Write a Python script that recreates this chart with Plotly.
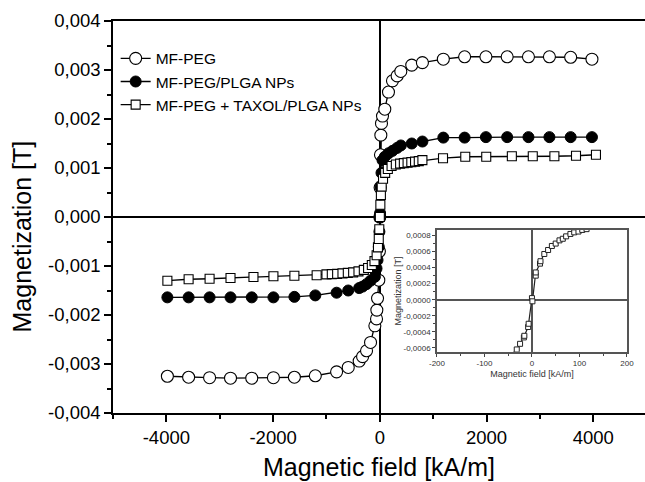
import plotly.graph_objects as go

# ---------------- data (field in kA/m, magnetization in T) ----------------
peg_h = [-3981, -3583, -3190, -2798, -2400, -1994, -1601, -1209, -810, -592, -387, -323,
         -249, -174, -93, -62, -56, -43, -19, -8, 0, 5, 12, 19, 31, 50, 93, 162, 237, 324,
         393, 598, 798, 1190, 1589, 1988, 2386, 2785, 3178, 3576, 3975]
peg_m = [-3.25e-3, -3.27e-3, -3.28e-3, -3.29e-3, -3.29e-3, -3.28e-3, -3.27e-3, -3.24e-3,
         -3.16e-3, -3.07e-3, -2.94e-3, -2.85e-3, -2.73e-3, -2.56e-3, -2.22e-3, -2.08e-3,
         -1.90e-3, -1.66e-3, -1.29e-3, -0.70e-3, 0.0, 0.60e-3, 1.27e-3, 1.67e-3, 1.91e-3,
         2.06e-3, 2.20e-3, 2.55e-3, 2.78e-3, 2.88e-3, 2.97e-3, 3.10e-3, 3.15e-3, 3.22e-3,
         3.27e-3, 3.27e-3, 3.27e-3, 3.27e-3, 3.27e-3, 3.26e-3, 3.22e-3]

plga_h = [-3981, -3583, -3190, -2798, -2400, -1994, -1601, -1209, -810, -592, -387, -323,
          -249, -174, -93, -62, -43, -19, -8, 0, 5, 12, 31, 50, 93, 162, 237, 324, 393, 598,
          798, 1190, 1589, 1988, 2386, 2785, 3178, 3576, 3975]
plga_m = [-1.64e-3, -1.64e-3, -1.64e-3, -1.64e-3, -1.64e-3, -1.64e-3, -1.63e-3, -1.60e-3,
          -1.545e-3, -1.50e-3, -1.45e-3, -1.42e-3, -1.37e-3, -1.30e-3, -1.22e-3, -1.05e-3,
          -0.88e-3, -0.61e-3, -0.30e-3, 0.0, 0.08e-3, 0.61e-3, 0.90e-3, 1.16e-3, 1.23e-3,
          1.30e-3, 1.35e-3, 1.41e-3, 1.46e-3, 1.50e-3, 1.54e-3, 1.62e-3, 1.62e-3, 1.63e-3,
          1.63e-3, 1.63e-3, 1.63e-3, 1.63e-3, 1.63e-3]

taxol_h = [-3981, -3583, -3190, -2798, -2368, -1994, -1601, -1184, -1000, -900, -800, -700,
           -600, -500, -400, -300, -220, -150, -100, -60, -35, -20, -10, 0, 10, 20, 35, 60,
           100, 150, 220, 300, 380, 450, 520, 590, 660, 730, 798, 1184, 1601, 1994, 2474,
           2866, 3271, 3676, 4050]
taxol_m = [-1.30e-3, -1.27e-3, -1.26e-3, -1.245e-3, -1.225e-3, -1.21e-3, -1.20e-3, -1.19e-3,
           -1.17e-3, -1.165e-3, -1.16e-3, -1.15e-3, -1.14e-3, -1.13e-3, -1.11e-3, -1.08e-3,
           -1.04e-3, -0.98e-3, -0.90e-3, -0.78e-3, -0.62e-3, -0.45e-3, -0.25e-3, 0.0,
           0.25e-3, 0.45e-3, 0.62e-3, 0.78e-3, 0.90e-3, 0.98e-3, 1.04e-3, 1.07e-3, 1.09e-3,
           1.10e-3, 1.11e-3, 1.12e-3, 1.13e-3, 1.14e-3, 1.16e-3, 1.20e-3, 1.23e-3, 1.23e-3,
           1.24e-3, 1.24e-3, 1.24e-3, 1.25e-3, 1.27e-3]

# inset: MF-PEG + TAXOL/PLGA NPs at low field
inset_h = [-45, -32, -25, -17, -16, -8, -7, 0, 1, 8, 8, 17, 18, 26, 34, 42, 50, 58, 65,
           72, 81, 89, 98, 106, 115]
inset_m = [-6.9e-4, -6.2e-4, -5.5e-4, -4.7e-4, -4.5e-4, -3.4e-4, -3.0e-4, 0.2e-4, -0.2e-4,
           3.0e-4, 3.4e-4, 4.5e-4, 4.8e-4, 5.7e-4, 6.2e-4, 6.7e-4, 7.0e-4, 7.4e-4, 7.6e-4,
           7.9e-4, 8.2e-4, 8.4e-4, 8.5e-4, 8.7e-4, 8.8e-4]

series_names = ["MF-PEG", "MF-PEG/PLGA NPs", "MF-PEG + TAXOL/PLGA NPs"]

x_tickvals = [-4000, -2000, 0, 2000, 4000]
x_ticktext = ["-4000", "-2000", "0", "2000", "4000"]
y_tickvals = [-0.004, -0.003, -0.002, -0.001, 0.0, 0.001, 0.002, 0.003, 0.004]
y_ticktext = ["-0,004", "-0,003", "-0,002", "-0,001", "0,000", "0,001", "0,002", "0,003", "0,004"]

ix_tickvals = [-200, -100, 0, 100, 200]
ix_ticktext = ["-200", "-100", "0", "100", "200"]
iy_tickvals = [-0.0006, -0.0004, -0.0002, 0.0, 0.0002, 0.0004, 0.0006, 0.0008]
iy_ticktext = ["-0,0006", "-0,0004", "-0,0002", "0,0000", "0,0002", "0,0004", "0,0006", "0,0008"]

FONT = "Liberation Sans, Arial, Helvetica, sans-serif"

fig = go.Figure()

fig.add_trace(go.Scatter(
    x=peg_h, y=peg_m, name=series_names[0], mode="lines+markers",
    line=dict(color="black", width=1.3),
    marker=dict(symbol="circle", size=12, color="white", line=dict(color="black", width=1.1)),
))
fig.add_trace(go.Scatter(
    x=plga_h, y=plga_m, name=series_names[1], mode="lines+markers",
    line=dict(color="black", width=1.3),
    marker=dict(symbol="circle", size=11, color="black", line=dict(color="black", width=1)),
))
fig.add_trace(go.Scatter(
    x=taxol_h, y=taxol_m, name=series_names[2], mode="lines+markers",
    line=dict(color="black", width=1.3),
    marker=dict(symbol="square", size=9, color="white", line=dict(color="black", width=1.1)),
))
fig.add_trace(go.Scatter(
    x=inset_h, y=inset_m, mode="lines+markers", showlegend=False,
    xaxis="x2", yaxis="y2",
    line=dict(color="#222", width=1.2),
    marker=dict(symbol="square", size=5, color="white", line=dict(color="#222", width=1)),
))

fig.update_layout(
    width=645, height=482,
    margin=dict(l=113, r=0, t=21, b=69, autoexpand=False),
    paper_bgcolor="white", plot_bgcolor="white",
    font=dict(family=FONT, color="black", size=18),
    showlegend=True,
    legend=dict(x=0.005, y=0.947, xanchor="left", yanchor="top", bgcolor="rgba(0,0,0,0)",
                font=dict(size=15.5), tracegroupgap=0, itemwidth=30),
    xaxis=dict(
        domain=[0, 1], range=[-5000, 4969], automargin=False,
        tickmode="array", tickvals=x_tickvals, ticktext=x_ticktext,
        ticks="outside", ticklen=7, tickwidth=1.5, tickcolor="black",
        tickfont=dict(size=18.5),
        minor=dict(tickmode="array", tickvals=[-5000, -3000, -1000, 1000, 3000],
                   ticks="outside", ticklen=4, tickwidth=1.5, tickcolor="black"),
        showline=True, linecolor="black", linewidth=1.5, mirror=True,
        showgrid=False, zeroline=True, zerolinecolor="black", zerolinewidth=1.5,
        title=dict(text="Magnetic field [kA/m]", font=dict(size=25), standoff=12),
    ),
    yaxis=dict(
        domain=[0, 1], range=[-0.004, 0.004], automargin=False,
        tickmode="array", tickvals=y_tickvals, ticktext=y_ticktext,
        ticks="outside", ticklen=7, tickwidth=1.5, tickcolor="black",
        tickfont=dict(size=18.5),
        minor=dict(tickmode="array",
                   tickvals=[-0.0035, -0.0025, -0.0015, -0.0005, 0.0005, 0.0015, 0.0025, 0.0035],
                   ticks="outside", ticklen=4, tickwidth=1.5, tickcolor="black"),
        showline=True, linecolor="black", linewidth=1.5, mirror=False,
        showgrid=False, zeroline=True, zerolinecolor="black", zerolinewidth=1.5,
    ),
    xaxis2=dict(
        domain=[0.609, 0.966], anchor="y2", range=[-200, 200], automargin=False,
        tickmode="array", tickvals=ix_tickvals, ticktext=ix_ticktext,
        ticks="outside", ticklen=3, tickwidth=1, tickcolor="#444",
        tickfont=dict(size=8, color="#333"),
        minor=dict(tickmode="array", tickvals=[-150, -50, 50, 150],
                   ticks="outside", ticklen=2, tickwidth=1, tickcolor="#444"),
        showline=True, linecolor="#555", linewidth=1.5, mirror=True,
        showgrid=False, zeroline=True, zerolinecolor="#555", zerolinewidth=1.5,
        title=dict(text="Magnetic field [kA/m]", font=dict(size=9, color="#333"), standoff=4),
    ),
    yaxis2=dict(
        domain=[0.156, 0.467], anchor="x2", range=[-0.00065, 0.00087], automargin=False,
        tickmode="array", tickvals=iy_tickvals, ticktext=iy_ticktext,
        ticks="outside", ticklen=3, tickwidth=1, tickcolor="#444",
        tickfont=dict(size=8, color="#333"),
        minor=dict(tickmode="array",
                   tickvals=[-0.0005, -0.0003, -0.0001, 0.0001, 0.0003, 0.0005, 0.0007],
                   ticks="outside", ticklen=2, tickwidth=1, tickcolor="#444"),
        showline=True, linecolor="#555", linewidth=1.5, mirror=True,
        showgrid=False, zeroline=True, zerolinecolor="#555", zerolinewidth=1.5,
        title=dict(text="Magnetization [T]", font=dict(size=9, color="#333"), standoff=0),
    ),
    annotations=[dict(
        text="Magnetization [T]", textangle=-90, showarrow=False,
        xref="paper", yref="paper", x=(21 - 113) / 532, y=(413 - 236.5) / 392,
        xanchor="center", yanchor="middle", font=dict(size=25, family=FONT, color="black"),
    )],
)

fig.write_html("out.html")
